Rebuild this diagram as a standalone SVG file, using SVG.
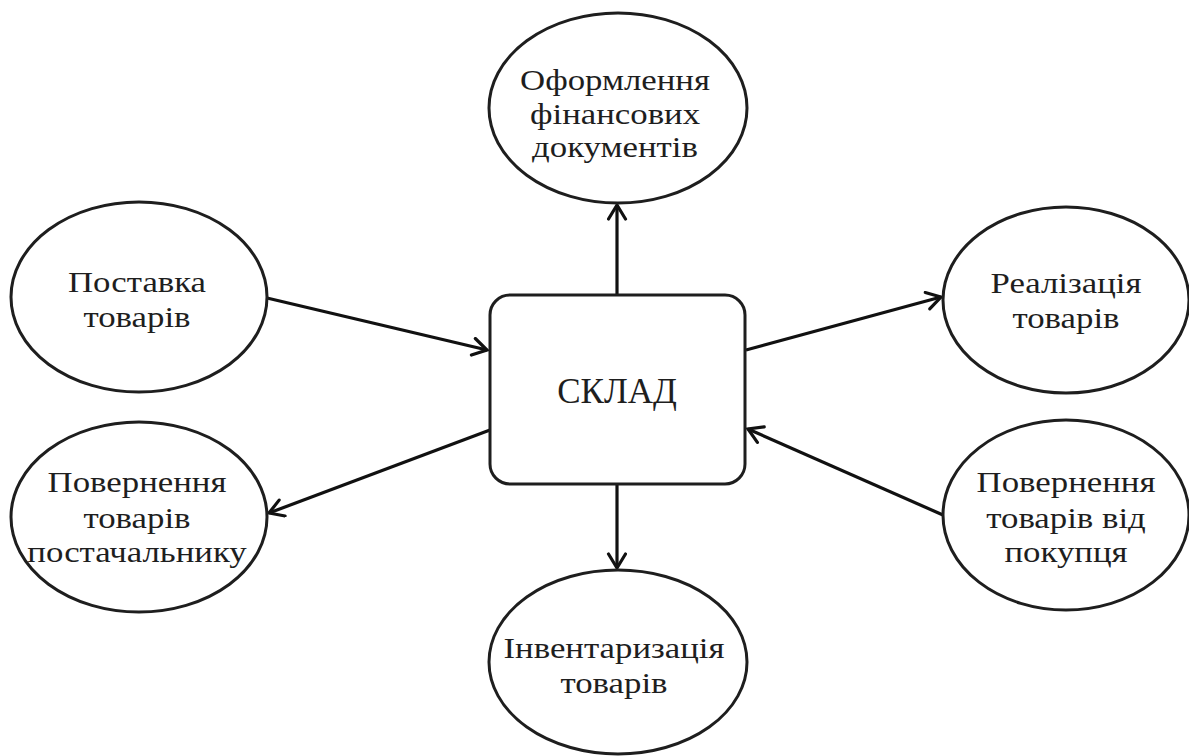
<svg xmlns="http://www.w3.org/2000/svg" width="1189" height="756" viewBox="0 0 1189 756">
  <style>
    .node { fill: #ffffff; stroke: #1e1e1e; stroke-width: 3; }
    .lbl { font-family: "Liberation Serif", "Times New Roman", serif; font-size: 30px; fill: #1e1e1e; text-anchor: middle; }
    .big { font-size: 35px; }
    .edge { fill: none; stroke: #111111; stroke-width: 3.2; }
  </style>
  <defs>
    <marker id="arrow" markerUnits="userSpaceOnUse" markerWidth="22" markerHeight="22" refX="16" refY="10" orient="auto">
      <path d="M2,1.5 L16,10 L2,18.5" fill="none" stroke="#111111" stroke-width="3.2" stroke-linecap="round" stroke-linejoin="miter"/>
    </marker>
  </defs>

  <rect width="1189" height="756" fill="#ffffff"/>

  <!-- connectors -->
  <g id="connectors">
    <line class="edge" x1="617" y1="295" x2="617" y2="205" marker-end="url(#arrow)"/>
    <line class="edge" x1="617" y1="484" x2="617" y2="568" marker-end="url(#arrow)"/>
    <line class="edge" x1="267" y1="298" x2="487" y2="350" marker-end="url(#arrow)"/>
    <line class="edge" x1="746" y1="350" x2="941" y2="297" marker-end="url(#arrow)"/>
    <line class="edge" x1="490" y1="430" x2="269" y2="513" marker-end="url(#arrow)"/>
    <line class="edge" x1="943" y1="515" x2="748" y2="429" marker-end="url(#arrow)"/>
  </g>

  <!-- central warehouse -->
  <g id="warehouse">
    <rect class="node" x="490" y="295" width="255" height="189" rx="20" ry="20"/>
    <text class="lbl big" x="617" y="403">СКЛАД</text>
  </g>

  <g id="finance-docs">
    <ellipse class="node" cx="618" cy="108" rx="129" ry="95"/>
    <g transform="translate(615,0) scale(1.16,1)">
      <text class="lbl" x="0" y="90">Оформлення</text>
      <text class="lbl" x="0" y="124">фінансових</text>
      <text class="lbl" x="0" y="157">документів</text>
    </g>
  </g>

  <g id="supply">
    <ellipse class="node" cx="139" cy="297" rx="128" ry="95"/>
    <g transform="translate(137,0) scale(1.16,1)">
      <text class="lbl" x="0" y="292">Поставка</text>
      <text class="lbl" x="0" y="327">товарів</text>
    </g>
  </g>

  <g id="sales">
    <ellipse class="node" cx="1066" cy="300" rx="123" ry="93"/>
    <g transform="translate(1066,0) scale(1.16,1)">
      <text class="lbl" x="0" y="293">Реалізація</text>
      <text class="lbl" x="0" y="328">товарів</text>
    </g>
  </g>

  <g id="return-to-supplier">
    <ellipse class="node" cx="139" cy="517" rx="128" ry="95"/>
    <g transform="translate(137,0) scale(1.16,1)">
      <text class="lbl" x="0" y="492">Повернення</text>
      <text class="lbl" x="0" y="528">товарів</text>
      <text class="lbl" x="0" y="562">постачальнику</text>
    </g>
  </g>

  <g id="return-from-customer">
    <ellipse class="node" cx="1066" cy="515" rx="123" ry="95"/>
    <g transform="translate(1066,0) scale(1.16,1)">
      <text class="lbl" x="0" y="492">Повернення</text>
      <text class="lbl" x="0" y="528">товарів від</text>
      <text class="lbl" x="0" y="562">покупця</text>
    </g>
  </g>

  <g id="inventory">
    <ellipse class="node" cx="618" cy="662" rx="129" ry="92"/>
    <g transform="translate(614,0) scale(1.16,1)">
      <text class="lbl" x="0" y="658">Інвентаризація</text>
      <text class="lbl" x="0" y="693">товарів</text>
    </g>
  </g>
</svg>
